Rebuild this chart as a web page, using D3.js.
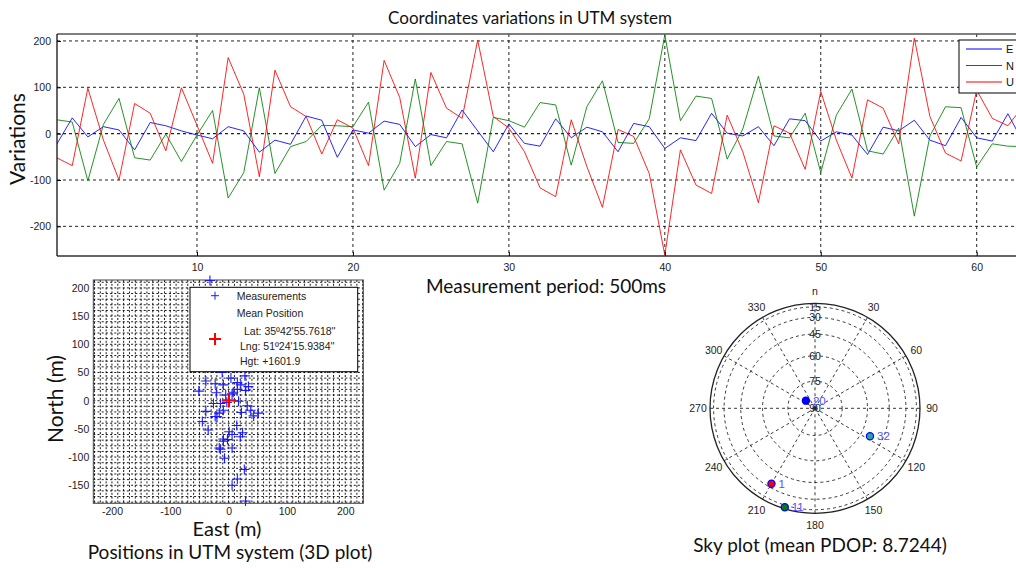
<!DOCTYPE html>
<html>
<head>
<meta charset="utf-8">
<script src="https://cdn.jsdelivr.net/npm/d3@7"></script>
<style>
  body { margin: 0; background: #fff; }
  text { font-family: "Liberation Sans", Arial, sans-serif; }
  .big { font-family: Lato, "Open Sans", sans-serif; fill: #111; }
</style>
</head>
<body>
<script>
// measurement index 1..63, variations in metres
var epochs = d3.range(1, 64)
var eastVar = [-23, 34, -7, 15, 8, -35, 24, 17, 6, -3, -11, 15, 6, -40, -14, -23, 38, 29, -51, 8,
    1, 27, 20, -28, -2, -9, 51, 6, -39, 21, -21, -27, 32, -9, 14, 4, -39, 22, 15, -32,
    -9, -15, 44, 1, -5, 15, -26, 32, 28, -16, 4, -3, -45, 14, 6, 29, -14, -26, 35, -9,
    -16, 43, -20]
var northVar = [30, 25, -102, 20, 76, -52, -57, -1, -60, -3, 50, -139, -84, 99, -86, -28, -17, 18, 17, 15,
    68, -122, -64, 118, -69, -17, -22, -150, 35, 28, 14, 67, 62, -68, 58, 114, -19, -21, 32, 213,
    28, 81, 76, -55, 10, 124, -5, -9, 44, -84, 40, 96, -37, -44, 12, -178, -5, 58, 56, -72,
    -22, -27, -28]
var upVar = [-52, -69, 98, -14, -100, 65, 44, -37, 99, 18, -64, 164, 85, -93, 137, 58, 37, -44, 30, 12,
    -69, 158, 78, -96, 132, 55, 33, 202, 37, 12, -39, -117, -136, 30, -71, -159, 9, -6, -86, -262,
    -35, -111, -129, 40, -39, -149, 17, 1, -77, 91, -14, -96, 73, 55, -22, 206, 37, -42, -59, 94,
    33, 17, 60]
var seriesNames = ['E', 'N', 'U']

var yTicks = [-200, -100, 0, 100, 200]
var xTicks = [10, 20, 30, 40, 50, 60]
var posXTicks = [-200, -100, 0, 100, 200]
var posYTicks = [-150, -100, -50, 0, 50, 100, 150, 200]

var meanLat = "Lat: 35º42'55.7618''"
var meanLng = "Lng: 51º24'15.9384''"
var meanHgt = 'Hgt: +1601.9'

// sky plot
var satPrn = [20, 32, 1, 11]
var satAz = [310, 117, 210, 197]
var satEl = [83.5, 54, 34, 10]
var elevRings = [15, 30, 45, 60, 75]
var elevLabels = [15, 30, 45, 60, 75, 90]
var azLabels = [0, 30, 60, 90, 120, 150, 180, 210, 240, 270, 300, 330]
var pdop = 8.7244

var colors = {E: '#0000ff', N: '#008000', U: '#ff0000'}
var satFill = {20: '#0000ff', 32: '#2aa6a0', 1: '#ff0000', 11: '#008000'}

var width = 1016, height = 568

var svg = d3.select('body').append('svg')
    .attr('width', width)
    .attr('height', height)

// ---------- top chart ----------
var x = d3.scaleLinear().domain([1, 64]).range([56.65, 56.65 + 63 * 15.594])
var y = d3.scaleLinear().domain([-264, 215]).range([256, 34])

svg.append('clipPath').attr('id', 'topclip')
    .append('rect').attr('x', 57).attr('y', 34).attr('width', 1000).attr('height', 222)

var topChart = svg.append('g')

topChart.selectAll('.hgrid').data(yTicks).enter()
    .append('line')
    .attr('x1', 57).attr('x2', width)
    .attr('y1', d => y(d)).attr('y2', d => y(d))
    .attr('stroke', '#222').attr('stroke-dasharray', '3,3').attr('stroke-width', d => d == 0 ? 1.3 : 1)

topChart.selectAll('.vgrid').data(xTicks).enter()
    .append('line')
    .attr('x1', d => x(d)).attr('x2', d => x(d))
    .attr('y1', 34).attr('y2', 256)
    .attr('stroke', '#222').attr('stroke-dasharray', '3,3')

var line = d3.line().x((d, i) => x(epochs[i])).y(d => y(d))
var lines = topChart.append('g').attr('clip-path', 'url(#topclip)')
;[eastVar, northVar, upVar].forEach((s, k) => {
    lines.append('path')
        .datum(s)
        .attr('d', line)
        .attr('fill', 'none')
        .attr('stroke', colors[seriesNames[k]])
        .attr('stroke-width', 1)
        .attr('opacity', 0.85)
})

// box
topChart.append('line').attr('x1', 57).attr('x2', width).attr('y1', 34).attr('y2', 34).attr('stroke', '#555').attr('stroke-width', 1.5)
topChart.append('line').attr('x1', 57).attr('x2', width).attr('y1', 256).attr('y2', 256).attr('stroke', '#333').attr('stroke-width', 1.3)
topChart.append('line').attr('x1', 57).attr('x2', 57).attr('y1', 34).attr('y2', 256).attr('stroke', '#111').attr('stroke-width', 1.3)

topChart.append('g')
    .attr('transform', 'translate(57,0)')
    .call(d3.axisLeft(y).tickValues(yTicks).tickSize(-4).tickPadding(6).tickFormat(d => String(d)))
    .call(g => g.select('.domain').remove())
    .call(g => g.selectAll('text').attr('font-size', 10.5).attr('fill', '#222').attr('font-family', 'Liberation Sans'))

topChart.append('g')
    .attr('transform', 'translate(0,256)')
    .call(d3.axisBottom(x).tickValues(xTicks).tickSize(-4).tickPadding(8).tickFormat(d => String(d)))
    .call(g => g.select('.domain').remove())
    .call(g => g.selectAll('text').attr('font-size', 10.5).attr('fill', '#222').attr('font-family', 'Liberation Sans'))

// legend
var leg = topChart.append('g')
leg.append('rect').attr('x', 959).attr('y', 40).attr('width', 70).attr('height', 53)
    .attr('fill', '#fff').attr('stroke', '#000').attr('stroke-width', 1)
seriesNames.forEach((n, i) => {
    leg.append('line').attr('x1', 966).attr('x2', 1002)
        .attr('y1', 49 + i * 16.5).attr('y2', 49 + i * 16.5)
        .attr('stroke', colors[n])
    leg.append('text').attr('x', 1006).attr('y', 53 + i * 16.5)
        .attr('font-size', 11).attr('fill', '#111').text(n)
})

svg.append('text').attr('class', 'big')
    .attr('x', 530).attr('y', 24).attr('text-anchor', 'middle')
    .attr('font-size', 17).text('Coordinates variations in UTM system')
svg.append('text').attr('class', 'big')
    .attr('transform', 'translate(25,139) rotate(-90)').attr('text-anchor', 'middle')
    .attr('font-size', 21).text('Variations')
svg.append('text').attr('class', 'big')
    .attr('x', 546).attr('y', 293).attr('text-anchor', 'middle')
    .attr('font-size', 19).text('Measurement period: 500ms')

// ---------- positions plot ----------
var sx = d3.scaleLinear().domain([-232, 231]).range([93.3, 363.3])
var sy = d3.scaleLinear().domain([-182, 214]).range([503.3, 280])

var pos = svg.append('g')
pos.selectAll('.pv').data(d3.range(-230, 231, 10)).enter()
    .append('line')
    .attr('x1', d => sx(d)).attr('x2', d => sx(d))
    .attr('y1', 280).attr('y2', 503.3)
    .attr('stroke', '#000').attr('stroke-width', 0.9).attr('stroke-dasharray', '2,1.8')
pos.selectAll('.ph').data(d3.range(-180, 214, 10)).enter()
    .append('line')
    .attr('x1', 93.3).attr('x2', 363.3)
    .attr('y1', d => sy(d)).attr('y2', d => sy(d))
    .attr('stroke', '#000').attr('stroke-width', 0.9).attr('stroke-dasharray', '2,2.2')

pos.append('rect').attr('x', 93.3).attr('y', 280).attr('width', 270).attr('height', 223.3)
    .attr('fill', 'none').attr('stroke', '#444').attr('stroke-width', 1)

pos.selectAll('.meas').data(eastVar).enter()
    .append('path')
    .attr('transform', (d, i) => `translate(${sx(d)},${sy(northVar[i])})`)
    .attr('d', 'M-5,0H5M0,-5V5')
    .attr('stroke', '#1a1aff').attr('stroke-width', 1.1).attr('fill', 'none')

pos.append('path')
    .attr('transform', `translate(${sx(d3.mean(eastVar))},${sy(d3.mean(northVar))})`)
    .attr('d', 'M-7,0H7M0,-7V7')
    .attr('stroke', '#ff0000').attr('stroke-width', 2)

pos.append('g')
    .attr('transform', 'translate(93.3,0)')
    .call(d3.axisLeft(sy).tickValues(posYTicks).tickSize(0).tickPadding(4).tickFormat(d => String(d)))
    .call(g => g.select('.domain').remove())
    .call(g => g.selectAll('text').attr('font-size', 10.5).attr('fill', '#222').attr('font-family', 'Liberation Sans'))
pos.append('g')
    .attr('transform', 'translate(0,503.3)')
    .call(d3.axisBottom(sx).tickValues(posXTicks).tickSize(0).tickPadding(4).tickFormat(d => String(d)))
    .call(g => g.select('.domain').remove())
    .call(g => g.selectAll('text').attr('font-size', 10.5).attr('fill', '#222').attr('font-family', 'Liberation Sans'))

var pl = pos.append('g')
pl.append('rect').attr('x', 190).attr('y', 287.3).attr('width', 167.7).attr('height', 84.4)
    .attr('fill', '#fff').attr('stroke', '#000').attr('stroke-width', 1)
pl.append('path').attr('transform', 'translate(215,295.7)').attr('d', 'M-4,0H4M0,-4V4')
    .attr('stroke', '#1a1aff').attr('stroke-width', 1)
pl.append('path').attr('transform', 'translate(215,339)').attr('d', 'M-6,0H6M0,-6V6')
    .attr('stroke', '#ff0000').attr('stroke-width', 2)
var legTexts = [['Measurements', 236.7, 299.5], ['Mean Position', 236.7, 316.7],
    [meanLat, 244, 334.5], [meanLng, 240, 350], [meanHgt, 240, 364.5]]
legTexts.forEach(t => {
    pl.append('text').attr('x', t[1]).attr('y', t[2]).attr('font-size', 10.5).attr('fill', '#222').text(t[0])
})

svg.append('text').attr('class', 'big')
    .attr('transform', 'translate(63,399) rotate(-90)').attr('text-anchor', 'middle')
    .attr('font-size', 21).text('North (m)')
svg.append('text').attr('class', 'big')
    .attr('x', 227).attr('y', 536).attr('text-anchor', 'middle')
    .attr('font-size', 20).text('East (m)')
svg.append('text').attr('class', 'big')
    .attr('x', 230).attr('y', 559).attr('text-anchor', 'middle')
    .attr('font-size', 19).text('Positions in UTM system (3D plot)')

// ---------- sky plot ----------
var cx = 815, cy = 408.3, R = 105
var rEl = el => R * Math.cos(el * Math.PI / 180)
var sky = svg.append('g').attr('transform', `translate(${cx},${cy})`)

sky.selectAll('.ring').data(elevRings).enter()
    .append('circle')
    .attr('r', d => rEl(d))
    .attr('fill', 'none').attr('stroke', '#222').attr('stroke-dasharray', '3,3').attr('stroke-width', 0.9)
sky.selectAll('.spoke').data(azLabels).enter()
    .append('line')
    .attr('x1', 0).attr('y1', 0)
    .attr('x2', d => R * Math.sin(d * Math.PI / 180))
    .attr('y2', d => -R * Math.cos(d * Math.PI / 180))
    .attr('stroke', '#222').attr('stroke-dasharray', '3,3').attr('stroke-width', 0.9)
sky.append('circle').attr('r', R).attr('fill', 'none').attr('stroke', '#222').attr('stroke-width', 1.3)

sky.selectAll('.el').data(elevLabels).enter()
    .append('text')
    .attr('x', 0).attr('y', d => -rEl(d) + 4)
    .attr('text-anchor', 'middle').attr('font-size', 10.5).attr('fill', '#222')
    .text(d => d)
sky.selectAll('.az').data(azLabels).enter()
    .append('text')
    .attr('x', d => 117 * Math.sin(d * Math.PI / 180))
    .attr('y', d => -117 * Math.cos(d * Math.PI / 180) + 4)
    .attr('text-anchor', 'middle').attr('font-size', 10.5).attr('fill', '#222')
    .text(d => d == 0 ? 'n' : d)

var sats = sky.selectAll('.sat').data(satPrn).enter()
    .append('g')
    .attr('transform', (d, i) => {
        var r = rEl(satEl[i]), a = satAz[i] * Math.PI / 180
        return `translate(${r * Math.sin(a)},${-r * Math.cos(a)})`
    })
sats.append('circle').attr('r', 3.6)
    .attr('fill', d => satFill[d]).attr('stroke', '#0000ff').attr('stroke-width', 1.2)
sats.append('text').attr('x', 7).attr('y', 4)
    .attr('font-size', 11.5).attr('fill', '#5050ff').text(d => d)

svg.append('text').attr('class', 'big')
    .attr('x', 820).attr('y', 552).attr('text-anchor', 'middle')
    .attr('font-size', 19).text(`Sky plot (mean PDOP: ${pdop})`)
</script>
</body>
</html>
